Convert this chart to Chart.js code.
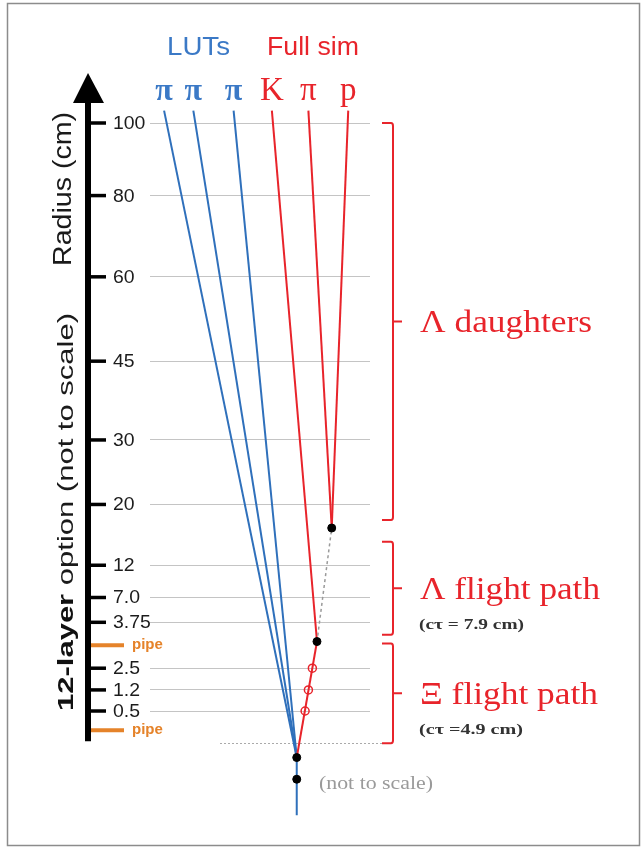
<!DOCTYPE html>
<html><head><meta charset="utf-8">
<script src="https://cdn.jsdelivr.net/npm/chart.js@4/dist/chart.umd.min.js"></script>
<style>html,body{margin:0;padding:0;background:#fff}#wrap{width:644px;height:848px;position:relative}</style>
</head><body><div id="wrap"><canvas id="c"></canvas></div>
<script>
// Layer radii (cm) and their schematic (not-to-scale) axis positions
const radiusLabels = ['100','80','60','45','30','20','12','7.0','3.75','2.5','1.2','0.5'];
const layerSlots   = [100, 88.3, 75.2, 61.6, 48.9, 38.5, 28.7, 23.5, 19.5, 12.1, 8.6, 5.2];
const pipeSlots    = [15.8, 2.1];
// Track labels and top ends (schematic x)
const lutLabels     = ['π','π','π'];
const fullSimLabels = ['K','π','p'];
const lutTopX       = [6.4, 19.7, 38.0];
const fullSimTopX   = [55.4, 72.0, 90.1];
const trackTopY     = 102;
// Vertices and hits
const primaryVertex = {x:66.7, y:-2.3};
const secondDot     = {x:66.7, y:-5.8};
const beamEnd       = {x:66.7, y:-11.6};
const xiDecay       = {x:75.9, y:16.4};
const lambdaDecay   = {x:82.6, y:34.7};
const xiHits        = [{x:73.8,y:12.1},{x:72.0,y:8.6},{x:70.5,y:5.2}];
// Brackets
const bracketNames  = ['Λ daughters','Λ flight path','Ξ flight path'];
const bracketNotes  = ['', '(cτ = 7.9 cm)', '(cτ =4.9 cm)'];
const bracketRanges = [[100, 36.0],[32.5, 17.5],[16.1, 0]];

const BLUE = '#2f70bb', RED = '#e8242b', BLUE_TXT = '#3b79c6';
const Y_MIN = -16, Y_MAX = 100;

const datasets = [];
// black vertex dots (on top)
datasets.push({data:[lambdaDecay, xiDecay, primaryVertex, secondDot], showLine:false, pointRadius:4,
  pointBackgroundColor:'#000', pointBorderColor:'#000', clip:false});
// open red hits
datasets.push({data:xiHits, showLine:false, pointRadius:4, pointBackgroundColor:'rgba(255,255,255,0)',
  pointBorderColor:RED, pointBorderWidth:1.5, clip:false});
// Xi track
datasets.push({data:[primaryVertex, xiDecay], showLine:true, borderColor:RED, borderWidth:2, pointRadius:0, clip:false});
// Lambda (neutral, dashed)
datasets.push({data:[xiDecay, lambdaDecay], showLine:true, borderColor:'#9a9a9a', borderWidth:1.5, borderDash:[3,3], pointRadius:0, clip:false});
// full sim daughters
datasets.push({data:[{x:fullSimTopX[0], y:trackTopY}, xiDecay], showLine:true, borderColor:RED, borderWidth:2, pointRadius:0, clip:false});
fullSimTopX.slice(1).forEach(x => datasets.push({data:[{x, y:trackTopY}, lambdaDecay], showLine:true, borderColor:RED, borderWidth:2, pointRadius:0, clip:false}));
// LUT pions
lutTopX.forEach(x => datasets.push({data:[{x, y:trackTopY}, primaryVertex], showLine:true, borderColor:BLUE, borderWidth:2, pointRadius:0, clip:false}));
datasets.push({data:[primaryVertex, beamEnd], showLine:true, borderColor:BLUE, borderWidth:2, pointRadius:0, clip:false});

function fitText(ctx, parts, x, y, targetW, align) {
  let total = 0;
  parts.forEach(p => { ctx.font = p.font; p.w = ctx.measureText(p.t).width; total += p.w; });
  const sx = targetW ? targetW / total : 1;
  ctx.save(); ctx.translate(x, y); ctx.scale(sx, 1);
  let cx = align === 'center' ? -total / 2 : 0;
  ctx.textAlign = 'left'; ctx.textBaseline = 'alphabetic';
  parts.forEach(p => { ctx.font = p.font; ctx.fillStyle = p.color; ctx.fillText(p.t, cx, 0); cx += p.w; });
  ctx.restore();
}

const deco = {
  id:'deco',
  beforeDatasetsDraw(chart) {
    const ctx = chart.ctx, ys = chart.scales.y, xs = chart.scales.x;
    ctx.save();
    ctx.strokeStyle = '#aaa'; ctx.lineWidth = 1; ctx.setLineDash([2,2]);
    const y0 = Math.round(ys.getPixelForValue(0)) + 0.5;
    ctx.beginPath(); ctx.moveTo(xs.getPixelForValue(0) + 70, y0); ctx.lineTo(xs.getPixelForValue(100) + 15, y0); ctx.stroke();
    ctx.restore();
  },
  afterDraw(chart) {
    const ctx = chart.ctx, ys = chart.scales.y, xs = chart.scales.x;
    const L = xs.getPixelForValue(0), R = xs.getPixelForValue(100), T = ys.getPixelForValue(100), B0 = ys.getPixelForValue(0);
    ctx.save();
    // frame
    ctx.strokeStyle = '#8c8c8c'; ctx.lineWidth = 1.5;
    ctx.strokeRect(7.5, 3.5, 632, 842);
    // axis
    const ax = L - 62;
    ctx.fillStyle = '#000'; ctx.strokeStyle = '#000';
    ctx.lineWidth = 6;
    ctx.beginPath(); ctx.moveTo(ax, B0 - 2); ctx.lineTo(ax, T - 22); ctx.stroke();
    ctx.beginPath(); ctx.moveTo(ax, T - 50); ctx.lineTo(ax - 15, T - 20); ctx.lineTo(ax + 16, T - 20); ctx.closePath(); ctx.fill();
    // ticks and labels
    ctx.lineWidth = 3.5;
    layerSlots.forEach((v, i) => {
      const py = ys.getPixelForValue(v);
      ctx.beginPath(); ctx.moveTo(ax, py); ctx.lineTo(L - 44, py); ctx.stroke();
      ctx.save(); ctx.textBaseline = 'middle';
      ctx.font = '18px "Liberation Sans"'; ctx.fillStyle = '#1c1c1c';
      ctx.translate(L - 37, py + 1); ctx.scale(1.08, 1); ctx.fillText(radiusLabels[i], 0, 0);
      ctx.restore();
    });
    // pipes
    ctx.strokeStyle = '#e5832a'; ctx.lineWidth = 4;
    pipeSlots.forEach(v => {
      const py = ys.getPixelForValue(v);
      ctx.beginPath(); ctx.moveTo(ax + 3, py); ctx.lineTo(L - 26, py); ctx.stroke();
      ctx.save(); ctx.textBaseline = 'middle'; ctx.font = 'bold 15px "Liberation Sans"'; ctx.fillStyle = '#e5832a';
      ctx.fillText('pipe', L - 18, py); ctx.restore();
    });
    // rotated axis titles
    ctx.save(); ctx.translate(71, 189); ctx.rotate(-Math.PI / 2);
    fitText(ctx, [{t:'Radius (cm)', font:'25px "Liberation Sans"', color:'#1a1a1a'}], 0, 0, 154, 'center');
    ctx.restore();
    ctx.save(); ctx.translate(73, 512); ctx.rotate(-Math.PI / 2);
    fitText(ctx, [{t:'12-layer', font:'bold 22px "Liberation Sans"', color:'#111'},
                  {t:' option (not to scale)', font:'22px "Liberation Sans"', color:'#1a1a1a'}], 0, 0, 398, 'center');
    ctx.restore();
    // group headers
    fitText(ctx, [{t:'LUTs', font:'26px "Liberation Sans"', color:BLUE_TXT}], 167, 55, 63);
    fitText(ctx, [{t:'Full sim', font:'26px "Liberation Sans"', color:RED}], 267, 55, 92);
    // particle labels
    lutLabels.forEach((t, i) => fitText(ctx, [{t, font:'bold 32px "Liberation Serif"', color:BLUE_TXT}], xs.getPixelForValue(lutTopX[i]), 100, 0, 'center'));
    fullSimLabels.forEach((t, i) => fitText(ctx, [{t, font:'33px "Liberation Serif"', color:RED}], xs.getPixelForValue(fullSimTopX[i]), 100, 0, 'center'));
    // brackets
    const bx = R + 23;
    const nameW = [172, 180, 178], noteW = [0, 105, 104];
    bracketRanges.forEach((r, i) => {
      const t = ys.getPixelForValue(r[0]), b = ys.getPixelForValue(r[1]), m = (t + b) / 2;
      ctx.strokeStyle = RED; ctx.lineWidth = 2;
      ctx.beginPath();
      ctx.moveTo(bx - 11, t); ctx.lineTo(bx - 2, t); ctx.quadraticCurveTo(bx, t, bx, t + 3);
      ctx.lineTo(bx, b - 3); ctx.quadraticCurveTo(bx, b, bx - 2, b); ctx.lineTo(bx - 11, b);
      ctx.moveTo(bx, m); ctx.lineTo(bx + 9, m);
      ctx.stroke();
      fitText(ctx, [{t:bracketNames[i], font:'31px "Liberation Serif"', color:RED}], R + 50, m + 11, nameW[i]);
      if (bracketNotes[i]) fitText(ctx, [{t:bracketNotes[i], font:'bold 15px "Liberation Serif"', color:'#333'}], R + 49, m + 41, noteW[i]);
    });
    // not to scale note
    fitText(ctx, [{t:'(not to scale)', font:'19px "Liberation Serif"', color:'#9a9a9a'}], 319, 789, 114);
    ctx.restore();
  }
};

new Chart(document.getElementById('c'), {
  type:'scatter',
  data:{datasets},
  options:{
    responsive:true, maintainAspectRatio:false, animation:false,
    layout:{padding:{left:150, right:274, top:123, bottom:1.2}},
    plugins:{legend:{display:false}, tooltip:{enabled:false}},
    elements:{line:{tension:0}},
    scales:{
      x:{type:'linear', min:0, max:100, display:false},
      y:{type:'linear', min:Y_MIN, max:Y_MAX,
         afterBuildTicks: s => { s.ticks = layerSlots.map(v => ({value:v})); },
         ticks:{display:false},
         grid:{color:'#c4c4c4', lineWidth:1, drawTicks:false},
         border:{display:false}}
    }
  },
  plugins:[deco]
});
</script>
</body></html>
